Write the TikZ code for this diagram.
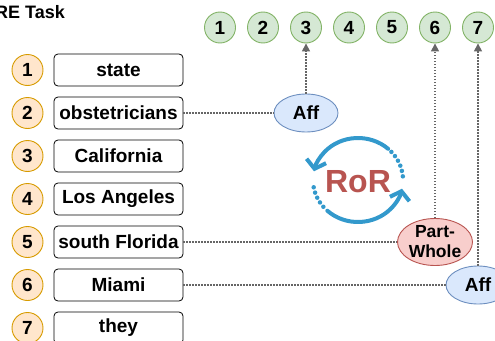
\documentclass[tikz,border=0pt]{standalone}
\usepackage{fontspec}
\setmainfont{Liberation Sans}
\usetikzlibrary{arrows.meta,shapes.geometric}
\definecolor{orstroke}{HTML}{D79B00}
\definecolor{orfill}{HTML}{FFE6CC}
\definecolor{grstroke}{HTML}{82B366}
\definecolor{grfill}{HTML}{D5E8D4}
\definecolor{blstroke}{HTML}{6C8EBF}
\definecolor{blfill}{HTML}{DAE8FC}
\definecolor{rdstroke}{HTML}{B85450}
\definecolor{rdfill}{HTML}{F8CECC}
\definecolor{linegray}{HTML}{666666}
\definecolor{iconblue}{HTML}{3399CC}
\begin{document}
\begin{tikzpicture}[x=1pt,y=-1pt,
  every node/.style={font=\fontsize{19}{20}\selectfont\bfseries},
  idx/.style={circle, draw=orstroke, fill=orfill, line width=0.9pt, minimum size=31pt, inner sep=0pt},
  gidx/.style={circle, draw=grstroke, fill=grfill, line width=0.9pt, minimum size=31pt, inner sep=0pt},
  ent/.style={draw=black, rounded corners=4pt, minimum width=129pt, minimum height=32pt, inner sep=0pt, line width=0.8pt},
  rel/.style={ellipse, minimum width=64pt, minimum height=38pt, inner sep=0pt, line width=0.9pt},
  conn/.style={draw=linegray, line width=1.5pt, dash pattern=on 1.5pt off 1.5pt},
  arr/.style={conn, -{Triangle[length=8pt,width=8pt]}},
  solidarc/.style={draw=iconblue, line width=4pt, line cap=round, -{Straight Barb[length=8pt,width=20pt]}},
  dotarc/.style={draw=iconblue, line width=4.5pt, line cap=round, dash pattern=on 0pt off 5.5pt}
]
\useasboundingbox (0,0) rectangle (495,340);
\clip (0,0) rectangle (495,340);

\node[anchor=base west, inner sep=0pt, font=\fontsize{18}{20}\selectfont\bfseries] (title) at (-5,18) {RE Task};

% entity indices and boxes
\foreach \i/\t [evaluate=\i as \yy using 70+43*(\i-1)] in
  {1/state,2/obstetricians,3/California,4/Los Angeles,5/south Florida,6/Miami,7/they}{
  \node[idx] (o\i) at (27.5,\yy) {\i};
  \node[ent] (e\i) at (118.5,\yy) {\t};
}

% top indices
\foreach \i [evaluate=\i as \xx using 220+43*(\i-1)] in {1,...,7}{
  \node[gidx] (g\i) at (\xx,27.5) {\i};
}

% relations
\node[rel, draw=blstroke, fill=blfill] (r1) at (306,113) {Aff};
\node[rel, draw=rdstroke, fill=rdfill, minimum width=75pt, minimum height=47pt, align=center,
      font=\fontsize{17.5}{20}\selectfont\bfseries] (r2) at (435,242) {Part-\\Whole};
\node[rel, draw=blstroke, fill=blfill] (r3) at (478,285) {Aff};

\draw[conn] (e2.east) -- (r1.west);
\draw[arr] (r1.north) -- (g3.south);
\draw[conn] (e5.east) -- (r2.west);
\draw[arr] (r2.north) -- (g6.south);
\draw[conn] (e6.east) -- (r3.west);
\draw[arr] (r3.north) -- (g7.south);

% RoR icon
\begin{scope}[shift={(358,180)}, y=1pt]
  \draw[dotarc] (5:45 and 42) arc[start angle=5, end angle=44, x radius=45, y radius=42];
  \draw[solidarc] (48:45 and 42) arc[start angle=48, end angle=168, x radius=45, y radius=42];
  \draw[dotarc] (190:45 and 42) arc[start angle=190, end angle=222, x radius=45, y radius=42];
  \draw[solidarc] (227:45 and 42) arc[start angle=227, end angle=348, x radius=45, y radius=42];
\end{scope}
\node[text=rdstroke, font=\fontsize{32}{32}\selectfont\bfseries] (ror) at (358,181.5) {RoR};
\end{tikzpicture}
\end{document}
